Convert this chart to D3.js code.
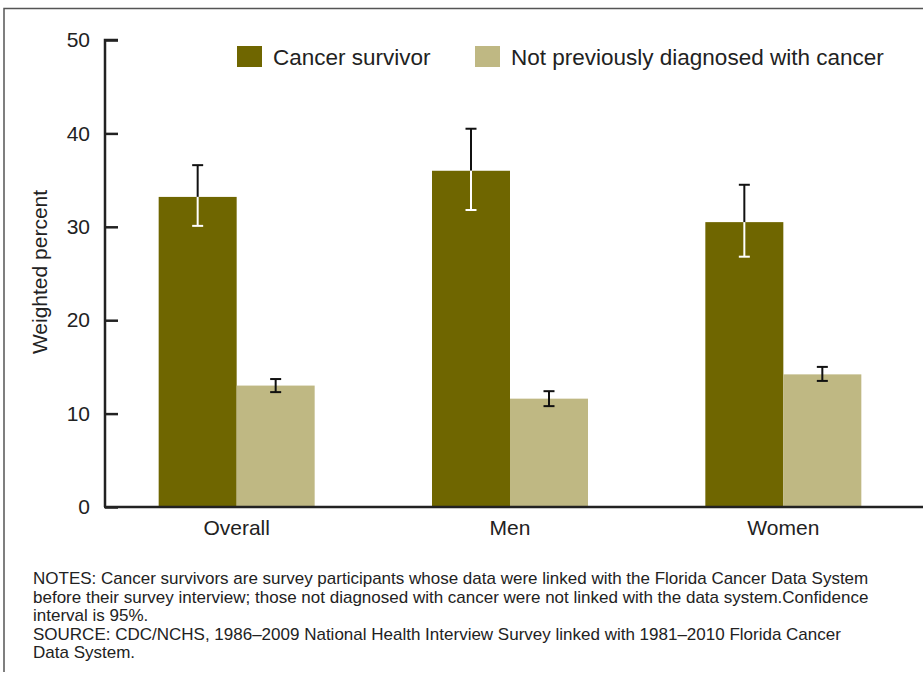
<!DOCTYPE html>
<html>
<head>
<meta charset="utf-8">
<script src="https://cdn.jsdelivr.net/npm/d3@7"></script>
<style>
  body { margin: 0; background: #fff; }
  svg { font-family: "Liberation Sans", Arial, sans-serif; }
</style>
</head>
<body>
<div id="chart"></div>
<script>
// data
const categories = ["Overall", "Men", "Women"];
const seriesNames = ["Cancer survivor", "Not previously diagnosed with cancer"];
const survivor = [33.2, 36.0, 30.5];
const survivorLow = [30.1, 31.8, 26.8];
const survivorHigh = [36.6, 40.5, 34.5];
const notDiagnosed = [13.0, 11.6, 14.2];
const notDiagnosedLow = [12.3, 10.8, 13.5];
const notDiagnosedHigh = [13.7, 12.4, 15.0];
const yTicks = [0, 10, 20, 30, 40, 50];
const notes = [
  "NOTES: Cancer survivors are survey participants whose data were linked with the Florida Cancer Data System",
  "before their survey interview; those not diagnosed with cancer were not linked with the data system.Confidence",
  "interval is 95%.",
  "SOURCE: CDC/NCHS, 1986\u20132009 National Health Interview Survey linked with 1981\u20132010 Florida Cancer",
  "Data System."
];

const width = 923, height = 675;
const colors = ["#6f6600", "#bfb883"];

let svg = d3.select("#chart")
    .append("svg")
    .attr("width", width)
    .attr("height", height);

// frame lines (top and left)
svg.append("path")
    .attr("d", "M4,672V8.5H923")
    .attr("fill", "none")
    .attr("stroke", "#555")
    .attr("stroke-width", 1.5);

let data = [];
categories.forEach(function(c, i) {
    data.push({cat: c, s: 0, value: survivor[i], low: survivorLow[i], high: survivorHigh[i]});
    data.push({cat: c, s: 1, value: notDiagnosed[i], low: notDiagnosedLow[i], high: notDiagnosedHigh[i]});
});

let y = d3.scaleLinear()
    .domain([0, 50])
    .range([507, 40]);

let x0 = d3.scaleBand()
    .domain(categories)
    .range([100, 920]);

let x1 = d3.scaleBand()
    .domain([0, 1])
    .range([-78, 78]);

// bars
svg.append("g").selectAll("rect")
    .data(data)
    .enter()
    .append("rect")
    .attr("x", function(d) { return x0(d.cat) + x0.bandwidth() / 2 + x1(d.s); })
    .attr("y", function(d) { return y(d.value); })
    .attr("width", x1.bandwidth())
    .attr("height", function(d) { return y(0) - y(d.value); })
    .attr("fill", function(d) { return colors[d.s]; });

// error bars: black outside the dark bars, white inside them
let eb = svg.append("g");
data.forEach(function(d) {
    let cx = x0(d.cat) + x0.bandwidth() / 2 + x1(d.s) + x1.bandwidth() / 2;
    let topColor = "#111";
    let lowColor = d.s === 0 ? "#fff" : "#111";
    let mid = d.s === 0 ? y(d.value) : y(d.low);
    eb.append("line")
        .attr("x1", cx).attr("x2", cx)
        .attr("y1", y(d.high)).attr("y2", mid)
        .attr("stroke", topColor).attr("stroke-width", 2);
    eb.append("line")
        .attr("x1", cx - 5.5).attr("x2", cx + 5.5)
        .attr("y1", y(d.high)).attr("y2", y(d.high))
        .attr("stroke", topColor).attr("stroke-width", 2);
    eb.append("line")
        .attr("x1", cx).attr("x2", cx)
        .attr("y1", mid).attr("y2", y(d.low))
        .attr("stroke", lowColor).attr("stroke-width", 2);
    eb.append("line")
        .attr("x1", cx - 5.5).attr("x2", cx + 5.5)
        .attr("y1", y(d.low)).attr("y2", y(d.low))
        .attr("stroke", lowColor).attr("stroke-width", 2);
});

// y axis, ticks point inward
let yAxis = svg.append("g")
    .attr("transform", "translate(105,0)")
    .call(d3.axisRight(y).tickValues(yTicks).tickSize(13).tickFormat(d3.format("d")));
yAxis.select(".domain").attr("stroke", "#222").attr("stroke-width", 2.5).attr("d", "M13,40H0V507");
yAxis.selectAll(".tick line").attr("stroke", "#222").attr("stroke-width", 2.5);
yAxis.selectAll(".tick text")
    .attr("x", -15)
    .attr("text-anchor", "end")
    .style("font-size", "21px")
    .attr("fill", "#222");

// x axis
let xAxis = svg.append("g")
    .attr("transform", "translate(0,507)")
    .call(d3.axisBottom(x0).tickSize(0).tickPadding(13));
xAxis.select(".domain").attr("stroke", "#222").attr("stroke-width", 2.5).attr("d", "M104,0H923");
xAxis.selectAll(".tick text")
    .attr("dy", "0.71em")
    .style("font-size", "21px")
    .attr("fill", "#222");

// y axis title
svg.append("text")
    .attr("transform", "translate(47,272) rotate(-90)")
    .style("text-anchor", "middle")
    .style("font-size", "21px")
    .attr("fill", "#222")
    .text("Weighted percent");

// legend
let legendX = [237, 475];
seriesNames.forEach(function(name, i) {
    svg.append("rect")
        .attr("x", legendX[i]).attr("y", 46)
        .attr("width", 25).attr("height", 21)
        .attr("fill", colors[i]);
    svg.append("text")
        .attr("x", legendX[i] + 36).attr("y", 65)
        .style("font-size", "22.5px")
        .attr("fill", "#222")
        .text(name);
});

// notes
svg.append("g").selectAll("text")
    .data(notes)
    .enter()
    .append("text")
    .attr("x", 33)
    .attr("y", function(d, i) { return 584 + i * 18.6; })
    .style("font-size", "17px")
    .attr("fill", "#222")
    .text(function(d) { return d; });
</script>
</body>
</html>
